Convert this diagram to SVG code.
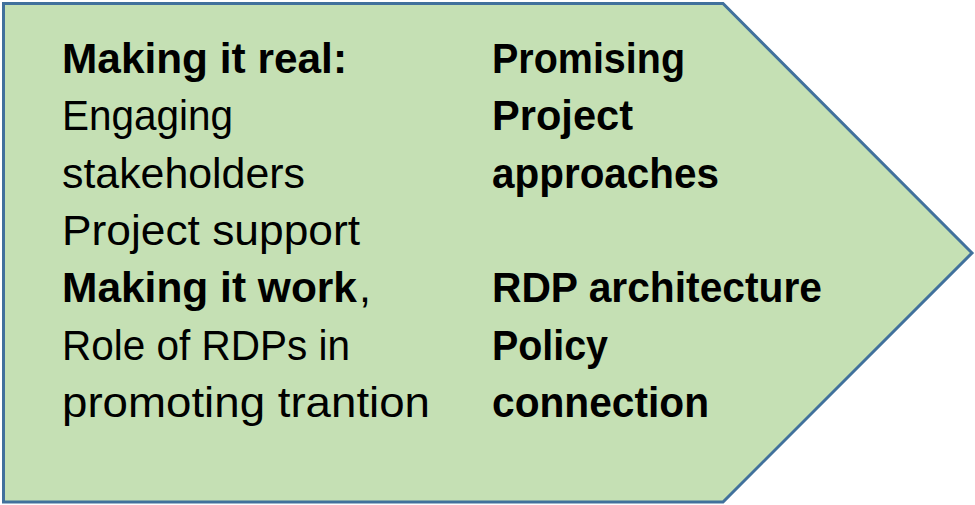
<svg xmlns="http://www.w3.org/2000/svg" width="975" height="505" viewBox="0 0 975 505">
<style>
.t{font-family:"Liberation Sans",Arial,sans-serif;font-size:43px;fill:#000}
.b{font-weight:bold}
</style>
<rect width="975" height="505" fill="#ffffff"/>
<g id="arrow-shape">
<polygon points="3.5,3.5 723,3.5 972,253 723,502 3.5,502" fill="#C5E0B4" stroke="#41719C" stroke-width="3" stroke-linejoin="miter"/>
</g>
<g id="left-column">
<text class="t b" x="62" y="73" textLength="285" lengthAdjust="spacingAndGlyphs">Making it real:</text>
<text class="t" x="62" y="130.3" textLength="171" lengthAdjust="spacingAndGlyphs">Engaging</text>
<text class="t" x="62" y="187.6" textLength="243" lengthAdjust="spacingAndGlyphs">stakeholders</text>
<text class="t" x="62" y="244.9" textLength="298" lengthAdjust="spacingAndGlyphs">Project support</text>
<text class="t b" x="62" y="302.2" textLength="295" lengthAdjust="spacingAndGlyphs">Making it work</text>
<text class="t" x="359" y="302.2">,</text>
<text class="t" x="62" y="359.5" textLength="288" lengthAdjust="spacingAndGlyphs">Role of RDPs in</text>
<text class="t" x="62" y="416.8" textLength="368" lengthAdjust="spacingAndGlyphs">promoting trantion</text>
</g>
<g id="right-column">
<text class="t b" x="492" y="73" textLength="193" lengthAdjust="spacingAndGlyphs">Promising</text>
<text class="t b" x="492" y="130.3" textLength="141" lengthAdjust="spacingAndGlyphs">Project</text>
<text class="t b" x="492" y="187.6" textLength="227" lengthAdjust="spacingAndGlyphs">approaches</text>
<text class="t b" x="492" y="302.2" textLength="330" lengthAdjust="spacingAndGlyphs">RDP architecture</text>
<text class="t b" x="492" y="359.5" textLength="116" lengthAdjust="spacingAndGlyphs">Policy</text>
<text class="t b" x="492" y="416.8" textLength="217" lengthAdjust="spacingAndGlyphs">connection</text>
</g>
</svg>
